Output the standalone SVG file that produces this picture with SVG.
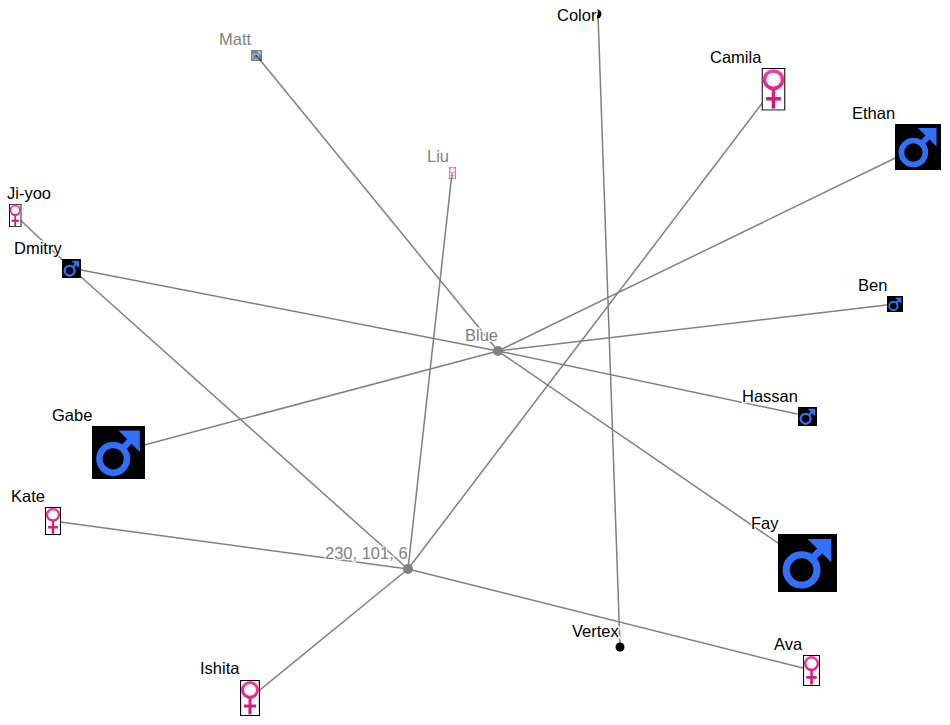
<svg xmlns="http://www.w3.org/2000/svg" width="950" height="725" viewBox="0 0 950 725">
<style>
.e{stroke:#808080;stroke-width:1.5;fill:none}
text{font-family:"Liberation Sans",Arial,sans-serif;font-size:16.5px;fill:#000;paint-order:stroke;stroke:#fff;stroke-width:3px;stroke-opacity:.85;opacity:.99}
text.g{fill:#808080}
.box{fill:#fff;stroke:#000;stroke-width:1.300}
.fade{opacity:.5}
</style>
<defs>
<linearGradient id="fg" gradientUnits="userSpaceOnUse" x1="0" y1="0" x2="0" y2="42"><stop offset="0" stop-color="#f83ea4"/><stop offset="1" stop-color="#c40f68"/></linearGradient>
<symbol id="f" viewBox="0 0 24 42" preserveAspectRatio="none">
<rect class="box" x="0.6" y="0.4" width="22.800" height="41.200" vector-effect="non-scaling-stroke"/>
<ellipse cx="12" cy="11.600" rx="9" ry="8.600" fill="none" stroke="url(#fg)" stroke-width="3.500"/>
<path d="M12 21V40M4.600 30.400H19.400" fill="none" stroke="url(#fg)" stroke-width="3.600"/>
</symbol>
<symbol id="m" viewBox="0 0 46 46" preserveAspectRatio="none">
<rect width="46" height="46" fill="#000"/>
<circle cx="18.400" cy="28.500" r="12" fill="none" stroke="#3070fa" stroke-width="5.600"/>
<path d="M26 20L36 10" fill="none" stroke="#3070fa" stroke-width="5.600"/>
<path d="M23 4H41.500V22.500Z" fill="#3070fa"/>
</symbol>
</defs>
<g id="connectors">
<path class="e" d="M256 55L498 351"/>
<path class="e" d="M918 147L498 351"/>
<path class="e" d="M895 304L498 351"/>
<path class="e" d="M807 416L498 351"/>
<path class="e" d="M807 563L498 351"/>
<path class="e" d="M71 268L498 351"/>
<path class="e" d="M118 452L498 351"/>
<path class="e" d="M452 173L408 569"/>
<path class="e" d="M773 89L408 569"/>
<path class="e" d="M71 268L408 569"/>
<path class="e" d="M53 521L408 569"/>
<path class="e" d="M811 670L408 569"/>
<path class="e" d="M250 698L408 569"/>
<path class="e" d="M598 14L620 647"/>
<path class="e" d="M15 215L71 268"/>
</g>
<g id="node-matt"><use class="fade" href="#m" x="251" y="50" width="11" height="11"/><text class="g" x="219" y="45">Matt</text></g>
<g id="node-liu"><use class="fade" href="#f" x="449" y="167" width="7" height="12"/><text class="g" x="427" y="162">Liu</text></g>
<g id="node-color"><path d="M597 9.500A4.500 4.500 0 1 1 597 18.500Z"/><text x="557" y="21">Color</text></g>
<g id="node-camila"><use href="#f" x="761.500" y="68" width="24" height="42.500"/><text x="710" y="63">Camila</text></g>
<g id="node-ethan"><use href="#m" x="895" y="124" width="46" height="46"/><text x="852" y="119">Ethan</text></g>
<g id="node-jiyoo"><use href="#f" x="9" y="204" width="12.500" height="23"/><text x="7" y="199">Ji-yoo</text></g>
<g id="node-dmitry"><use href="#m" x="62" y="259" width="19" height="19"/><text x="14" y="254">Dmitry</text></g>
<g id="node-ben"><use href="#m" x="887" y="296" width="16" height="16"/><text x="858" y="291">Ben</text></g>
<g id="node-blue"><circle cx="498" cy="351" r="5" fill="#808080"/><text class="g" x="465" y="341">Blue</text></g>
<g id="node-hassan"><use href="#m" x="798" y="407" width="19" height="19"/><text x="742" y="402">Hassan</text></g>
<g id="node-gabe"><use href="#m" x="92" y="426" width="53" height="53"/><text x="52" y="421">Gabe</text></g>
<g id="node-kate"><use href="#f" x="45" y="507" width="16" height="28"/><text x="11" y="502">Kate</text></g>
<g id="node-fay"><use href="#m" x="778" y="534" width="59" height="58"/><text x="751" y="529">Fay</text></g>
<g id="node-hub"><circle cx="408" cy="569" r="5" fill="#808080"/><text class="g" x="325" y="559">230, 101, 6</text></g>
<g id="node-vertex"><circle cx="620" cy="647" r="4.500"/><text x="572" y="637">Vertex</text></g>
<g id="node-ava"><use href="#f" x="803" y="655" width="17" height="31"/><text x="774" y="650">Ava</text></g>
<g id="node-ishita"><use href="#f" x="240" y="680" width="20" height="36"/><text x="200" y="674">Ishita</text></g>
</svg>
